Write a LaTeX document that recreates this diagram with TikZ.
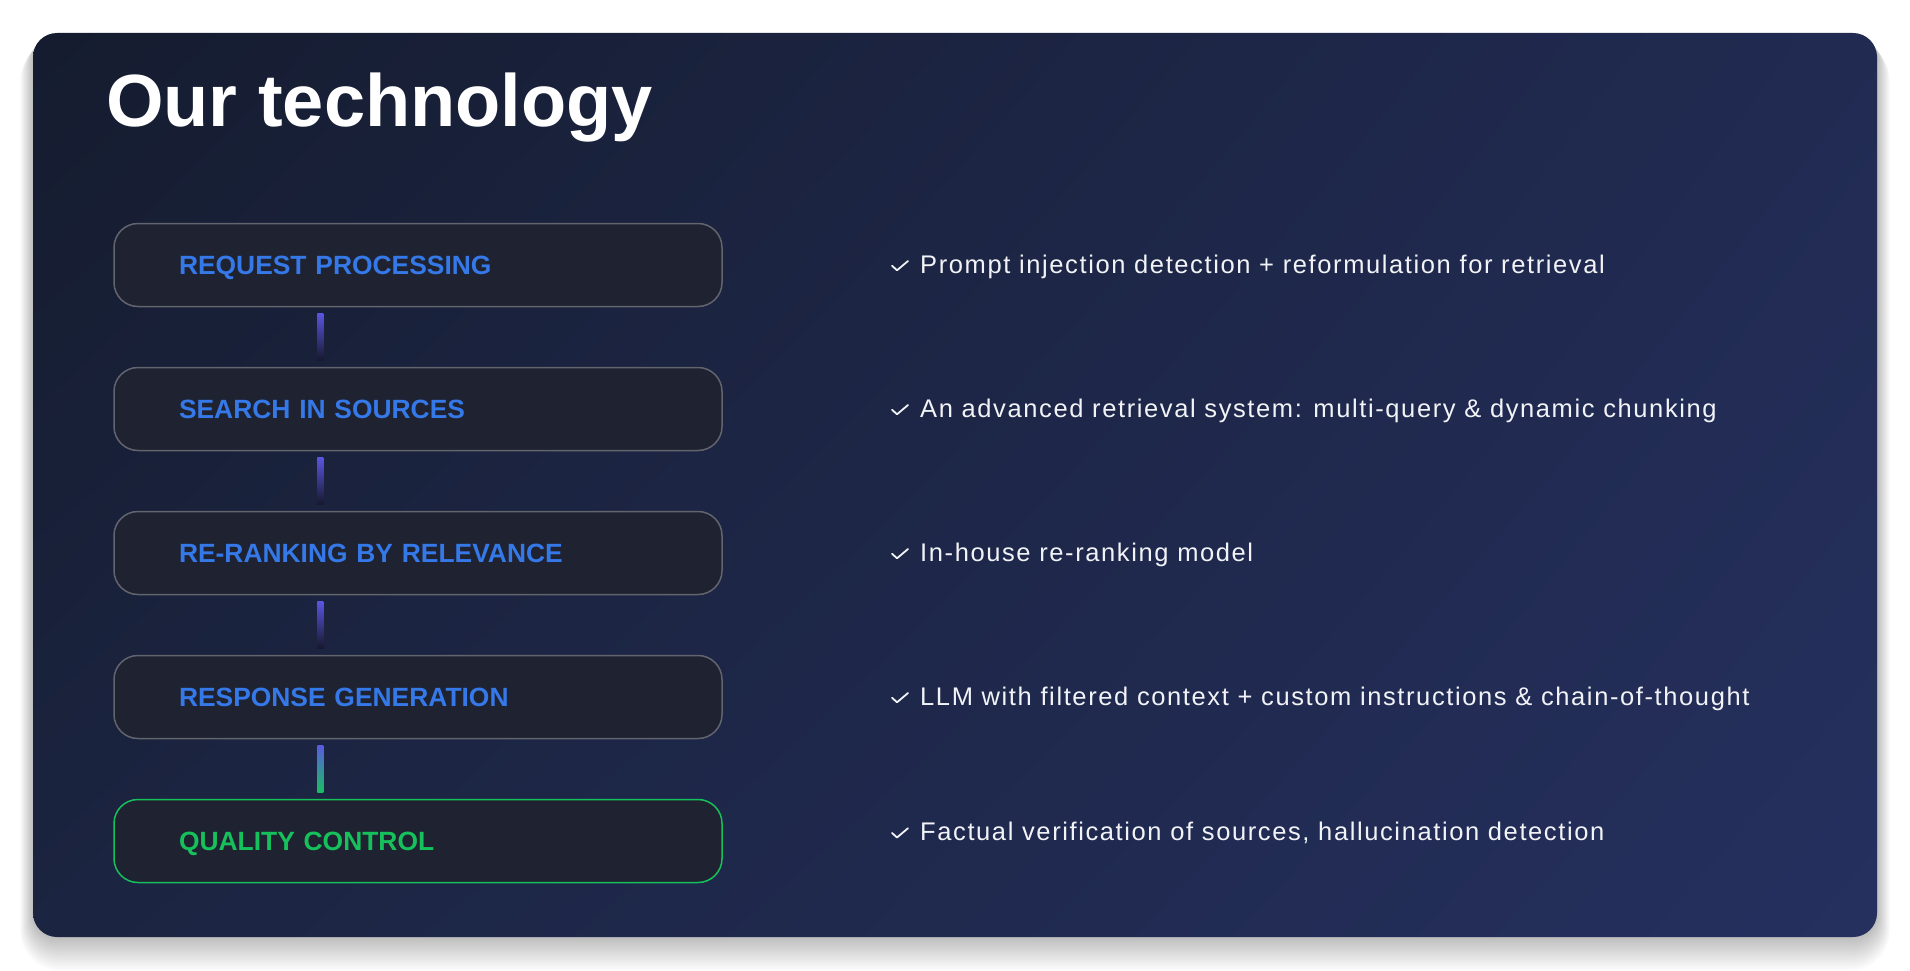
\documentclass[tikz,border=0pt]{standalone}
\usepackage{fontspec}
\setmainfont{Liberation Sans}
\usetikzlibrary{calc,shadings}
\definecolor{panelTL}{HTML}{151C2F}
\definecolor{panelTR}{HTML}{212B52}
\definecolor{panelBL}{HTML}{1B2440}
\definecolor{panelBR}{HTML}{25305F}
\definecolor{boxfill}{HTML}{1F2230}
\definecolor{boxborder}{HTML}{62646E}
\definecolor{bluetxt}{HTML}{3578E8}
\definecolor{greenc}{HTML}{16C15C}
\definecolor{contop}{HTML}{5B55E2}
\definecolor{conbot}{HTML}{16182C}
\definecolor{lasttop}{HTML}{5A5AE0}
\definecolor{lastbot}{HTML}{18C060}
\definecolor{desctxt}{HTML}{F2F3F7}
\tikzset{
  stagebox/.style={draw=boxborder, line width=1.5pt, fill=boxfill, rounded corners=24pt,
    minimum width=608pt, minimum height=83pt, inner xsep=65pt, inner ysep=0pt,
    text width=478pt, align=left, text height=18.9pt, text depth=0pt,
    font=\fontsize{26.4}{30}\selectfont\bfseries, text=bluetxt},
  greenbox/.style={stagebox, draw=greenc, text=greenc},
  desc/.style={anchor=base west, inner sep=0pt, text=desctxt, font=\fontsize{25.5}{29}\selectfont\addfontfeatures{LetterSpace=6.3}},
  tick/.style={draw=desctxt, line width=1.8pt, line cap=round, line join=round},
}
\begin{document}
\begin{tikzpicture}[x=1pt,y=-1pt]
\useasboundingbox (0,0) rectangle (1910,971);
\fill[white] (0,0) rectangle (1910,971);
% shadow
\foreach \i in {1,...,16} {
  \fill[black, opacity=0.015, rounded corners=24pt+\i pt] (33-\i*0.8,33+\i*0.5) rectangle (1877+\i*0.8,937+\i*2.1);
}
% panel
\shade[rounded corners=24pt, upper left=panelTL, upper right=panelTR, lower left=panelBL, lower right=panelBR] (33,33) rectangle (1877,937);
% title
\node[anchor=base west, inner sep=0pt, text=white, font=\fontsize{74}{84}\selectfont\bfseries] (title) at (106,126.5) {Our technology};
% stages
\node[stagebox] (b1) at (418,265) {REQUEST PROCESSING};
\node[stagebox] (b2) at (418,409) {SEARCH IN SOURCES};
\node[stagebox] (b3) at (418,553) {RE-RANKING BY RELEVANCE};
\node[stagebox] (b4) at (418,697) {RESPONSE GENERATION};
\node[greenbox] (b5) at (418,841) {QUALITY CONTROL};
% connectors
\shade[top color=contop, bottom color=conbot] ([xshift=204pt,yshift=-6pt]b1.south west) rectangle ([xshift=210pt,yshift=6pt]b2.north west);
\shade[top color=contop, bottom color=conbot] ([xshift=204pt,yshift=-6pt]b2.south west) rectangle ([xshift=210pt,yshift=6pt]b3.north west);
\shade[top color=contop, bottom color=conbot] ([xshift=204pt,yshift=-6pt]b3.south west) rectangle ([xshift=210pt,yshift=6pt]b4.north west);
\shade[top color=lasttop, bottom color=lastbot] ([xshift=204pt,yshift=-6pt]b4.south west) rectangle ([xshift=210pt,yshift=6pt]b5.north west);
% descriptions
\foreach \k/\yy/\txt in {d1/273.5/{Prompt injection detection + reformulation for retrieval},
  d2/417.5/{An advanced retrieval system: multi-query \& dynamic chunking},
  d3/561.5/{In-house re-ranking model},
  d4/705.5/{LLM with filtered context + custom instructions \& chain-of-thought},
  d5/840.7/{Factual verification of sources, hallucination detection}} {
  \node[desc] (\k) at (920,\yy) {\txt};
  \coordinate (\k c1) at (892,\yy-7.8);
  \coordinate (\k c2) at (897,\yy-3.2);
  \coordinate (\k c3) at (908,\yy-12.5);
  \draw[tick] (\k c1) -- (\k c2) -- (\k c3);
}
\end{tikzpicture}
\end{document}
